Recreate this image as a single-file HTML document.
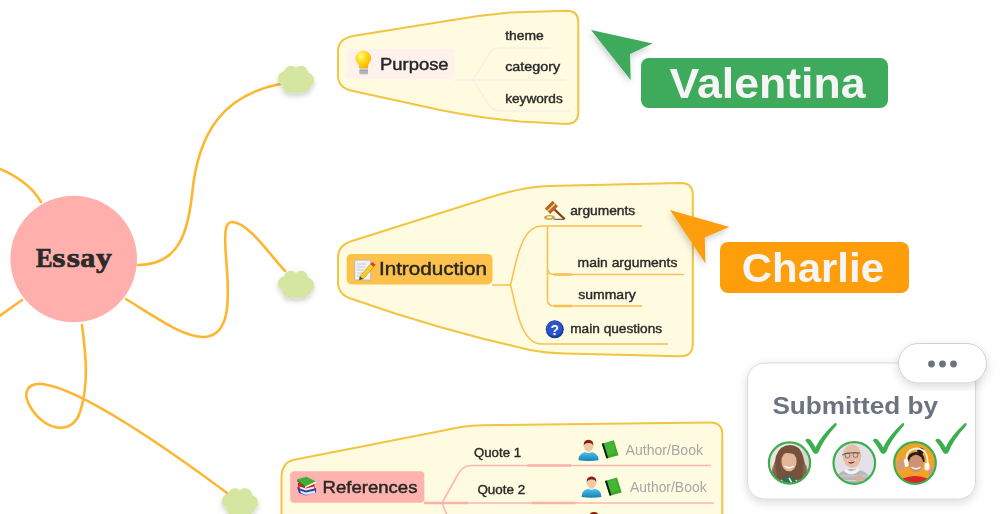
<!DOCTYPE html>
<html><head><meta charset="utf-8">
<style>
html,body{margin:0;padding:0;background:#fff;width:1000px;height:514px;overflow:hidden}
svg{display:block}
text{font-family:"Liberation Sans",sans-serif}
.serif text{font-family:"Liberation Serif",serif}
.nt{fill:#262626;stroke:#262626;stroke-width:0.45}
.st{fill:#2A2A2A;stroke:#2A2A2A;stroke-width:0.4}
</style></head><body>
<svg width="1000" height="514" viewBox="0 0 1000 514">
<defs>
  <filter id="csh" x="-50%" y="-50%" width="200%" height="200%">
    <feDropShadow dx="0" dy="3" stdDeviation="2.5" flood-color="#000" flood-opacity="0.18"/>
  </filter>
  <filter id="ash" x="-50%" y="-50%" width="200%" height="200%">
    <feDropShadow dx="-1" dy="3" stdDeviation="3" flood-color="#000" flood-opacity="0.2"/>
  </filter>
  <filter id="card" x="-20%" y="-20%" width="140%" height="140%">
    <feDropShadow dx="0" dy="3" stdDeviation="5" flood-color="#000" flood-opacity="0.15"/>
  </filter>
  <radialGradient id="bulbg" cx="0.35" cy="0.3" r="0.8">
    <stop offset="0" stop-color="#FFFBB0"/><stop offset="0.35" stop-color="#FFE21A"/><stop offset="1" stop-color="#FFA800"/>
  </radialGradient>
  <linearGradient id="bodyg" x1="0" y1="0" x2="0" y2="1">
    <stop offset="0" stop-color="#4EC3EC"/><stop offset="1" stop-color="#1A7FB8"/>
  </linearGradient>
  <g id="cloud">
    <circle cx="-5" cy="-6.5" r="7.2"/><circle cx="5" cy="-6.5" r="7.2"/>
    <circle cx="-11" cy="-1" r="7.2"/><circle cx="11" cy="0.5" r="7.2"/>
    <circle cx="-6.5" cy="6.5" r="7.2"/><circle cx="2" cy="7" r="7.2"/><circle cx="8.5" cy="6" r="6.5"/>
    <ellipse cx="0" cy="0" rx="13" ry="9"/>
  </g>
  <g id="person">
    <path d="M0,20.5 Q0,12 10,12 Q20,12 20,20.5 Q10,22 0,20.5 Z" fill="url(#bodyg)"/>
    <path d="M6.5,12.3 Q10,14.5 13.5,12.3 Z" fill="#fff"/>
    <ellipse cx="10" cy="6.5" rx="4.6" ry="5.5" fill="#F1C8A4"/>
    <path d="M5.2,6.5 Q4.5,0 10,0 Q15.5,0 14.8,6.5 Q14,3 10,3.2 Q6,3 5.2,6.5 Z" fill="#8B1E0E"/>
  </g>
  <g id="gbook">
    <path d="M0,3.5 L12,0 L16.7,15 L4.7,18.3 Z" fill="#38A92A"/>
    <path d="M2,4 L11,1.5 L14,13 L5,15.5 Z" fill="#52C23E" opacity="0.5"/>
    <path d="M0,3.5 L1.8,3 L6.4,17.8 L4.7,18.3 Z" fill="#151515"/>
  </g>
</defs>

<!-- connecting curves -->
<g fill="none" stroke="#FDB630" stroke-width="2.6" stroke-linecap="round">
  <path d="M-2,168 C15,175 32,186 41,202"/>
  <path d="M22,300 L-2,317"/>
  <path d="M138,265 C180,265 188,230 192,195 C198,130 225,95 280,84"/>
  <path d="M126,299 C160,320 185,338 205,337 C230,335 229,300 227,270 C224,235 224,222 232,222 C248,222 270,255 285,271"/>
  <path d="M82,325 C86,355 89,385 80,412 C73,435 46,432 31,408 C21,392 28,383 42,384 C80,388 168,449 227,493"/>
</g>

<!-- essay circle -->
<circle cx="73.7" cy="259" r="63.3" fill="#FFB0AD"/>
<g class="serif" style="font-weight:bold;font-size:27px" fill="#2A2A2A" stroke="#2A2A2A" stroke-width="0.7">
  <text x="36" y="267" textLength="16.5" lengthAdjust="spacingAndGlyphs">E</text>
  <text x="52.3" y="267" textLength="13.2" lengthAdjust="spacingAndGlyphs">s</text>
  <text x="66.7" y="267" textLength="13.2" lengthAdjust="spacingAndGlyphs">s</text>
  <text x="80.2" y="267" textLength="15" lengthAdjust="spacingAndGlyphs">a</text>
  <text x="95.9" y="267" textLength="15.8" lengthAdjust="spacingAndGlyphs">y</text>
</g>

<!-- clouds -->
<g fill="#D5E6A0" filter="url(#csh)">
  <use href="#cloud" x="296" y="79.5"/>
  <use href="#cloud" x="296" y="284.5"/>
  <use href="#cloud" x="240" y="502"/>
</g>

<!-- Purpose node -->
<path d="M353,36 L440,22 Q475,15.5 510,12.5 L567,10.8 Q578.3,10.8 578.3,22 L578.3,112 Q578.3,124 566,124 L520,121.5 Q480,118 440,110 L353,91 Q338,88 338,76 L338,51 Q338,39 353,36 Z" fill="#FFFBE1" stroke="#F2C443" stroke-width="2"/>
<g fill="none" stroke="#FCEEE4" stroke-width="1.5">
  <path d="M454,80 L473,80 M473,80 L489,54 Q493,48 501,48 L550,48 M473,80 L566,80 M473,80 L489,105 Q493,111 501,111 L570,111"/>
</g>
<rect x="347" y="49" width="108" height="30" rx="4" fill="#FFF1EC"/>
<text class="nt" x="380" y="69.6" font-size="17.2" textLength="68.6" lengthAdjust="spacingAndGlyphs">Purpose</text>
<text class="st" x="505.2" y="39.6" font-size="13" textLength="38.6" lengthAdjust="spacingAndGlyphs">theme</text>
<text class="st" x="505.2" y="70.8" font-size="13" textLength="55" lengthAdjust="spacingAndGlyphs">category</text>
<text class="st" x="505.2" y="102.8" font-size="13" textLength="57.6" lengthAdjust="spacingAndGlyphs">keywords</text>
<!-- bulb -->
<g>
  <path d="M359.4,68.5 Q359.5,65 357.5,63 Q355.5,60.5 355.5,58.5 A7.8,7.8 0 1 1 371.1,58.5 Q371.1,60.5 369.1,63 Q367.6,65 368,68.5 Z" fill="url(#bulbg)"/>
  <rect x="359.4" y="68.3" width="8.6" height="6.3" rx="1.3" fill="#C8C8C8"/>
  <rect x="359.4" y="70.3" width="8.6" height="1" fill="#8E8E8E"/>
  <rect x="359.4" y="72.5" width="8.6" height="0.8" fill="#9A9A9A"/>
</g>

<!-- Introduction node -->
<path d="M352,241 L480,200.5 Q520,187 548,186 L681,183 Q692.8,183 692.8,195 L692.8,344 Q692.8,356.5 680,356.3 L565,353.5 Q545,353 530,350 Q440,330 352,299 Q338,295 338,282 L338,258 Q338,245 352,241 Z" fill="#FFFBE1" stroke="#F2C443" stroke-width="2"/>
<g fill="none" stroke="#FBBF52" stroke-width="1.6">
  <path d="M492,285 L510.5,285 M510.5,285 C516,265 520,226 542,226 L642,226 M510.5,285 C516,305 520,344 542,344 L668,344"/>
  <path d="M547.5,226 L547.5,268 Q547.5,274.5 554,274.5 L684,274.5 M547.5,268 L547.5,299.5 Q547.5,306 554,306 L642,306"/>
</g>
<g fill="none" stroke="#FBBF52" stroke-width="2.4">
  <path d="M554,274.5 L572,274.5 M554,306 L572,306"/>
</g>
<rect x="346.7" y="253.9" width="145.8" height="30.6" rx="5" fill="#FEC14C"/>
<text class="nt" x="378.9" y="275" font-size="18" textLength="108" lengthAdjust="spacingAndGlyphs">Introduction</text>
<text class="st" x="570.2" y="214.6" font-size="13" textLength="65" lengthAdjust="spacingAndGlyphs">arguments</text>
<text class="st" x="577.6" y="267" font-size="13" textLength="99.8" lengthAdjust="spacingAndGlyphs">main arguments</text>
<text class="st" x="578.3" y="298.5" font-size="13" textLength="57.5" lengthAdjust="spacingAndGlyphs">summary</text>
<text class="st" x="570.2" y="333" font-size="13" textLength="92" lengthAdjust="spacingAndGlyphs">main questions</text>
<!-- memo icon -->
<g>
  <rect x="354.7" y="260.1" width="16" height="19.9" rx="1" fill="#F2F2F2" stroke="#B0B0B0" stroke-width="0.8"/>
  <path d="M357,264 H366 M357,267 H366 M357,270 H364 M357,273 H363 M357,276 H367" stroke="#C4C4C4" stroke-width="0.9"/>
  <path d="M360,276.5 L370.5,264 L373.8,266.8 L363.2,279 L359.2,279.8 Z" fill="#F6D21E" stroke="#9A7A10" stroke-width="0.5"/>
  <path d="M370.5,264 L372.2,262 L375.5,264.8 L373.8,266.8 Z" fill="#E83040"/>
  <path d="M359.2,279.8 L360,276.5 L363.2,279 Z" fill="#444"/>
</g>
<!-- gavel -->
<g>
  <path d="M553,208 L564,218.5" stroke="#8A3E12" stroke-width="2.3" stroke-linecap="round"/>
  <path d="M544.8,208.6 L552.6,200.8 L558,206.2 L550.2,214 Z" fill="#B8642A"/>
  <path d="M547.5,211.3 L555.3,203.5" stroke="#F2D27A" stroke-width="1.6"/>
  <ellipse cx="549.5" cy="217.5" rx="5.5" ry="2.6" fill="#D2A44E"/>
  <ellipse cx="549.5" cy="217.3" rx="2.8" ry="1.1" fill="#FFF4D0"/>
  <path d="M554,219.3 L564,219.3" stroke="#333" stroke-width="0.9"/>
</g>
<!-- question -->
<g>
  <circle cx="554.8" cy="329.3" r="9" fill="#1A3A9E"/>
  <circle cx="554.3" cy="328.6" r="7.8" fill="#2B55C9"/>
  <text x="554.8" y="334.5" font-size="14" font-weight="bold" fill="#fff" text-anchor="middle">?</text>
</g>

<!-- References node -->
<path d="M293,460 L446,430 Q462,426 482,425.3 L710,422.5 Q722.3,422.5 722.3,434 L722.3,520 L281.5,520 L281.5,478 Q281.5,463 293,460 Z" fill="#FFFBE1" stroke="#F2C443" stroke-width="2"/>
<g fill="none" stroke="#FCB8B0" stroke-width="1.7">
  <path d="M442,503 L457,476 Q462,465.5 471,465.5 L711,465.5 M442,503 L714,503 M442,503 L449,520"/>
</g>
<g fill="none" stroke="#FCB2AB" stroke-width="2.3">
  <path d="M527.5,465.5 L571,465.5 M532,503 L575.5,503 M424,503 L468,503"/>
</g>
<rect x="290.2" y="471.3" width="134.1" height="31.4" rx="4" fill="#FFB3AE"/>
<text class="nt" x="322.5" y="492.6" font-size="17.2" textLength="95" lengthAdjust="spacingAndGlyphs">References</text>
<text class="st" x="474" y="457.4" font-size="12.8" textLength="47" lengthAdjust="spacingAndGlyphs">Quote 1</text>
<text class="st" x="477.4" y="494" font-size="12.8" textLength="47.8" lengthAdjust="spacingAndGlyphs">Quote 2</text>
<text x="625.6" y="455" font-size="14" fill="#A6A6A6" textLength="77.4" lengthAdjust="spacingAndGlyphs">Author/Book</text>
<text x="630" y="491.6" font-size="14" fill="#A6A6A6" textLength="76.6" lengthAdjust="spacingAndGlyphs">Author/Book</text>
<!-- books icon -->
<g>
  <path d="M297,487 L306,490 L316,488 L316,492.5 L306,495.5 L299,493 Z" fill="#2B3FA6"/>
  <path d="M300,490.5 L306,492.5 L315,490.5 L315,493 L306,495 L301,493 Z" fill="#E6E6F2"/>
  <path d="M298,482.5 L306,485.5 L314.5,483 L314.5,488 L306,490.5 L298,487.5 Z" fill="#D81E1E"/>
  <path d="M299.5,486.5 L306,488.5 L314,486.5 L314,488.5 L306,490.5 L300,488.5 Z" fill="#F0F0F0"/>
  <path d="M297.2,479.3 L306.5,476.8 L315.8,481.5 L305,486.5 Z" fill="#3EAE34"/>
  <path d="M297.2,479.3 L305,486.5 L305,488 L297.2,481.2 Z" fill="#207A1E"/>
  <path d="M305,486.5 L315.8,481.5 L315.8,483.3 L305,488.3 Z" fill="#F2F2F2"/>
</g>
<!-- person & book icons -->
<use href="#person" x="578.5" y="439.7"/>
<use href="#gbook" x="601.8" y="440.3"/>
<use href="#person" x="581.5" y="476.4"/>
<use href="#gbook" x="605" y="477.5"/>
<use href="#person" x="584" y="512"/>

<!-- cursors -->
<path d="M591,30 L652.5,43.6 L630,54 L630.7,80 Z" fill="#3DAA5C" filter="url(#ash)"/>
<rect x="641" y="58" width="247" height="50" rx="8" fill="#3DAA5C"/>
<text x="669.6" y="97.8" font-size="42" font-weight="bold" fill="#F5F5F5" textLength="196" lengthAdjust="spacingAndGlyphs">Valentina</text>

<path d="M670,210 L729.4,227 L704.8,237.6 L705.4,263.4 Z" fill="#FF9E0B" filter="url(#ash)"/>
<rect x="720" y="242" width="189" height="51" rx="8" fill="#FF9E0B"/>
<text x="741.8" y="281.8" font-size="41" font-weight="bold" fill="#F5F5F5" textLength="142.2" lengthAdjust="spacingAndGlyphs">Charlie</text>

<!-- submitted card -->
<rect x="747.5" y="363" width="228" height="136" rx="17" fill="#fff" stroke="#D8D8D8" stroke-width="1" filter="url(#card)"/>
<text x="772.4" y="413.6" font-size="24" font-weight="bold" fill="#6B7280" textLength="165.6" lengthAdjust="spacingAndGlyphs">Submitted by</text>
<rect x="898.5" y="343.5" width="88" height="39.5" rx="19.75" fill="#fff" stroke="#D0D0D0" stroke-width="1" filter="url(#card)"/>
<g fill="#6B7280"><circle cx="931.5" cy="364" r="3.4"/><circle cx="942.5" cy="364" r="3.4"/><circle cx="953.5" cy="364" r="3.4"/></g>

<!-- avatars -->
<clipPath id="av1"><circle cx="789.5" cy="463" r="20.5"/></clipPath>
<clipPath id="av2"><circle cx="854.3" cy="463" r="20.5"/></clipPath>
<clipPath id="av3"><circle cx="915" cy="463" r="20.5"/></clipPath>
<g clip-path="url(#av1)">
  <rect x="765" y="440" width="50" height="50" fill="#ECE6DE"/>
  <rect x="802" y="440" width="13" height="50" fill="#DDD4CA"/>
  <path d="M772,478 Q774,466 776,456 Q780,445 790,445 Q800,445 803,456 Q806,466 807,478 L800,482 L780,482 Z" fill="#76523C"/>
  <path d="M772,478 Q770,470 775,462 L777,476 Z M807,478 Q810,470 804,462 L802,476 Z" fill="#8C6A52" opacity="0.8"/>
  <ellipse cx="789" cy="461.5" rx="7.6" ry="9.8" fill="#E3B69C"/>
  <path d="M781.5,454 Q786,449 795,451 Q797,454 797,456 Q790,451 781.5,454 Z" fill="#76523C"/>
  <path d="M784.5,466 Q789,469.5 793.5,466" stroke="#fff" stroke-width="1.3" fill="none"/>
  <path d="M777,490 Q778,477 789,475.5 Q800,477 802,490 Z" fill="#3E6A52"/>
  <path d="M781,480 L784,484 M789,478 L792,483 M796,480 L798,485 M785,486 L788,489 M793,486 L795,489" stroke="#E8EEE8" stroke-width="1.5"/>
</g>
<g clip-path="url(#av2)">
  <rect x="830" y="440" width="50" height="50" fill="#E4E2E8"/>
  <path d="M832,490 Q833,471 851,469 Q871,469 877,490 Z" fill="#B9B7BA"/>
  <path d="M836,476 H874 M835,480.5 H876 M834,485 H877" stroke="#D6D4D6" stroke-width="1.2"/>
  <path d="M845,470 Q852,476 859,469" stroke="#F4F4F4" stroke-width="3" fill="none"/>
  <ellipse cx="852" cy="456" rx="9.3" ry="11.5" fill="#E6BEA6"/>
  <path d="M842,455 Q847,452 860,453" stroke="#3A3A3A" stroke-width="0.8" fill="none"/>
  <circle cx="847.5" cy="455.5" r="2.5" fill="none" stroke="#4A4A4A" stroke-width="0.6"/>
  <circle cx="855.5" cy="455" r="2.5" fill="none" stroke="#4A4A4A" stroke-width="0.6"/>
  <path d="M847,461 Q851,466.5 856,460.5 Z" fill="#8A2E2E"/>
  <path d="M847,461 Q851,462.5 856,460.5" stroke="#fff" stroke-width="0.9" fill="none"/>
  <path d="M854,477 Q860,473 864,478 L858,484 Z" fill="#D9AE94"/>
</g>
<g clip-path="url(#av3)">
  <rect x="890" y="440" width="50" height="50" fill="#F2A226"/>
  <circle cx="920.5" cy="451" r="3.3" fill="#2A1A14"/>
  <path d="M907.5,462 Q907,452 916,452 Q925,452 924.5,462 Z" fill="#2A1A14"/>
  <ellipse cx="916" cy="463.5" rx="7.3" ry="8.8" fill="#CD926F"/>
  <path d="M911.5,467 Q916,470.5 920.5,467" stroke="#fff" stroke-width="1.3" fill="none"/>
  <path d="M906.5,462 Q905,449 917,448.5 Q929,449 927.5,466" fill="none" stroke="#F2F2F2" stroke-width="1.8"/>
  <rect x="903.5" y="459" width="5" height="8" rx="2.2" fill="#F6F6F6"/>
  <rect x="924.5" y="462.5" width="5" height="8" rx="2.2" fill="#F6F6F6"/>
  <path d="M897,470 Q896,460 902,458 Q905,462 905,470 Z" fill="#D39A78"/>
  <path d="M928,473 Q931,465 934,467 Q935,474 930,478 Z" fill="#D39A78"/>
  <path d="M894,490 Q896,477 915,476 Q934,477 937,490 Z" fill="#D8262A"/>
</g>
<g fill="none" stroke="#3BAF4E" stroke-width="2.2">
  <circle cx="789.5" cy="463" r="20.6"/>
  <circle cx="854.3" cy="463" r="20.8"/>
  <circle cx="915" cy="463" r="20.8"/>
</g>
<g fill="#3BAF4E">
  <path id="chk" d="M805.2,440.2 Q807.5,437.6 810.5,440 Q813.5,443.5 815.6,447.5 Q820,437 835,423 Q837.2,422.8 836.5,425.2 Q822.7,440.5 818.6,452 Q816,455.5 813.2,452.5 Q810,446 805.2,440.2 Z"/>
  <use href="#chk" x="67.6"/>
  <use href="#chk" x="130"/>
</g>
</svg>
</body></html>
